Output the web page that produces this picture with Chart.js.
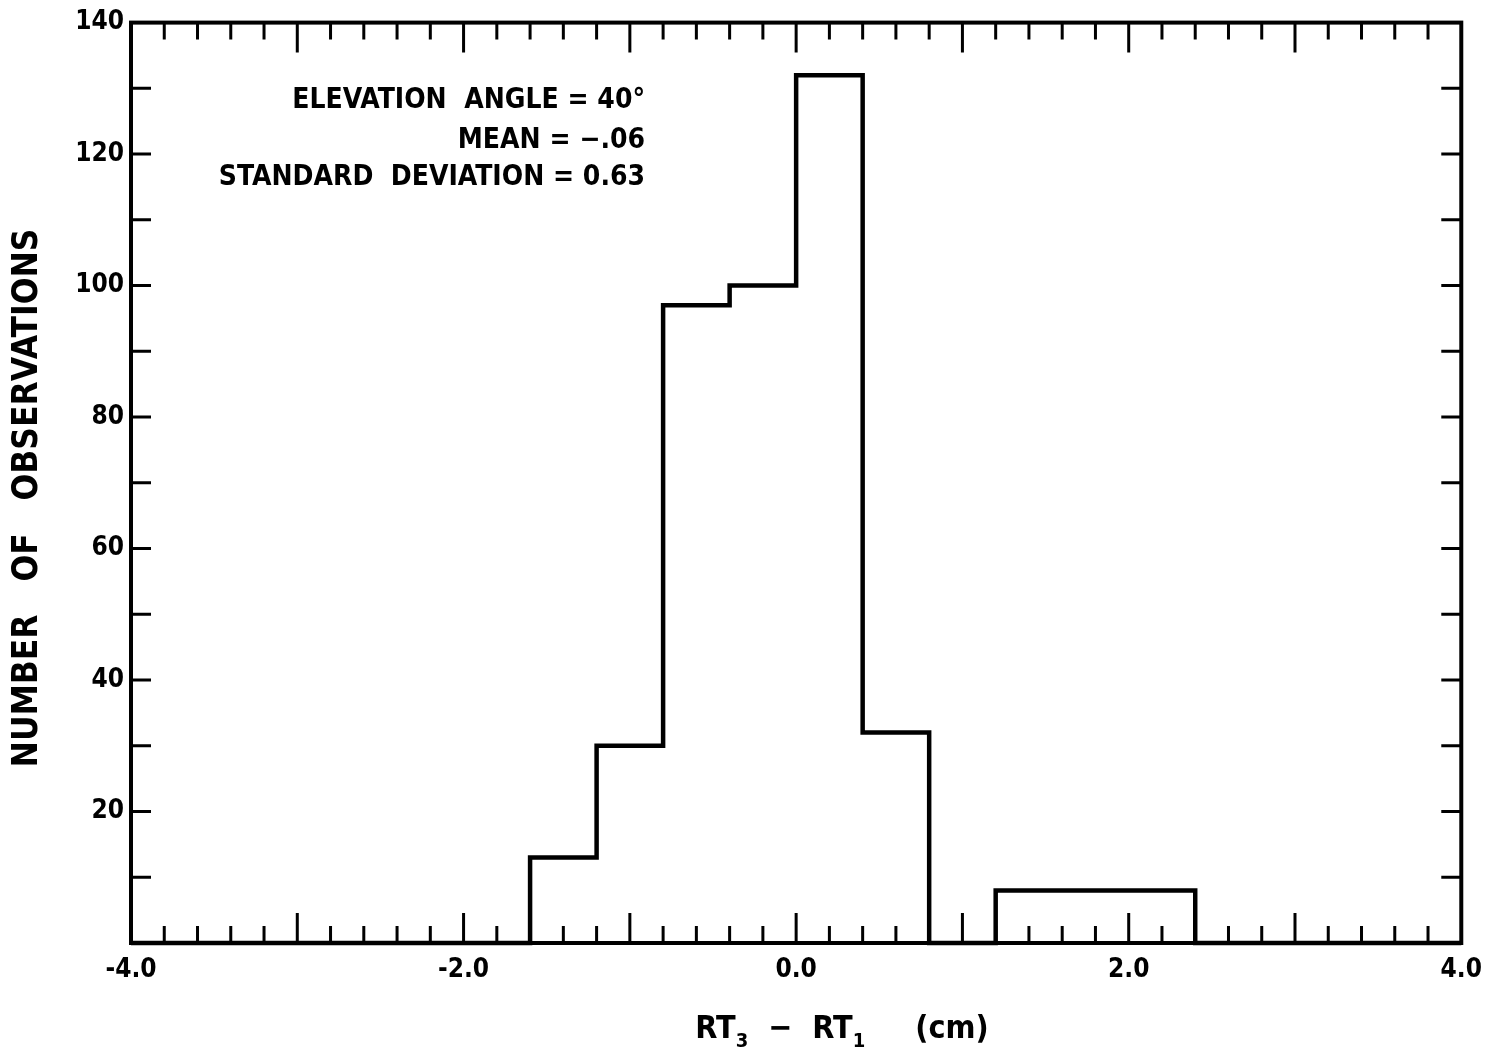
<!DOCTYPE html>
<html>
<head>
<meta charset="utf-8">
<script src="https://cdn.jsdelivr.net/npm/chart.js@4.4.1/dist/chart.umd.min.js"></script>
<style>
html, body { margin: 0; padding: 0; background: #fff; }
#wrap { width: 1494px; height: 1055px; }
</style>
</head>
<body>
<div id="wrap"><canvas id="hist" width="1494" height="1055"></canvas></div>
<script>
// histogram bins (left edge, cm) and counts
const binStarts = [-1.6, -1.2, -0.8, -0.4, 0.0, 0.4, 0.8, 1.2, 1.6, 2.0];
const binWidth = 0.4;
const counts = [13, 30, 97, 100, 132, 32, 0, 8, 8, 8];

const xRange = [-4.0, 4.0];
const yRange = [0, 140];
const xLabelTicks = [-4.0, -2.0, 0.0, 2.0, 4.0];
const yLabelTicks = [20, 40, 60, 80, 100, 120, 140];

const infoLines = ['ELEVATION  ANGLE = 40°', 'MEAN = −.06', 'STANDARD  DEVIATION = 0.63'];
const yTitle = 'NUMBER   OF   OBSERVATIONS';

const FONT = '"DejaVu Sans Condensed", "DejaVu Sans", sans-serif';

// outline points: zero from the left edge, one step per bin, back to zero
const points = [{ x: xRange[0], y: 0 }];
binStarts.forEach((b, i) => points.push({ x: b, y: counts[i] }));
points.push({ x: binStarts[binStarts.length - 1] + binWidth, y: 0 });
points.push({ x: xRange[1], y: 0 });

const frameAndText = {
    id: 'frameAndText',
    afterDatasetsDraw(chart) {
        const { ctx, chartArea: a, scales: { x, y } } = chart;
        ctx.save();
        ctx.strokeStyle = '#000';
        ctx.fillStyle = '#000';

        // frame
        ctx.lineWidth = 4;
        ctx.strokeRect(a.left, a.top, a.right - a.left, a.bottom - a.top);

        // inward ticks: x every 0.2 (long at whole units), y every 10
        ctx.lineWidth = 3;
        ctx.beginPath();
        for (let i = 1; i < 40; i++) {
            const px = x.getPixelForValue(xRange[0] + i * 0.2);
            const len = (i % 5 === 0) ? 30 : 17;
            ctx.moveTo(px, a.bottom); ctx.lineTo(px, a.bottom - len);
            ctx.moveTo(px, a.top); ctx.lineTo(px, a.top + len);
        }
        for (let v = 10; v < yRange[1]; v += 10) {
            const py = y.getPixelForValue(v);
            ctx.moveTo(a.left, py); ctx.lineTo(a.left + 20, py);
            ctx.moveTo(a.right, py); ctx.lineTo(a.right - 20, py);
        }
        ctx.stroke();

        // info block, right aligned
        ctx.font = 'bold 28px ' + FONT;
        ctx.textAlign = 'right';
        ctx.textBaseline = 'middle';
        const rowY = [101, 141, 178];
        infoLines.forEach((t, i) => ctx.fillText(t, 645, rowY[i]));

        // y title
        ctx.save();
        ctx.translate(28, 498);
        ctx.rotate(-Math.PI / 2);
        ctx.textAlign = 'center';
        ctx.font = 'bold 35px ' + FONT;
        ctx.fillText(yTitle, 0, 0);
        ctx.restore();

        // x title with subscripts
        const big = 'bold 32px ' + FONT, small = 'bold 20px ' + FONT;
        const parts = [['RT', big, 0], ['3', small, 12], ['  −  ', big, 0], ['RT', big, 0], ['1', small, 12], ['     (cm)', big, 0]];
        ctx.textAlign = 'left';
        let total = 0;
        parts.forEach(p => { ctx.font = p[1]; total += ctx.measureText(p[0]).width; });
        let cx = 842 - total / 2;
        parts.forEach(p => {
            ctx.font = p[1];
            ctx.fillText(p[0], cx, 1030 + p[2]);
            cx += ctx.measureText(p[0]).width;
        });
        ctx.restore();
    }
};

new Chart(document.getElementById('hist').getContext('2d'), {
    type: 'line',
    data: {
        datasets: [{
            data: points,
            stepped: true,
            borderColor: '#000',
            borderWidth: 4.5,
            pointRadius: 0,
            fill: false,
            clip: 8
        }]
    },
    options: {
        responsive: false,
        animation: false,
        layout: { padding: { top: 22, right: 32, left: 0, bottom: 0 } },
        plugins: { legend: { display: false }, tooltip: { enabled: false } },
        scales: {
            x: {
                type: 'linear',
                min: xRange[0], max: xRange[1],
                afterBuildTicks: s => { s.ticks = xLabelTicks.map(v => ({ value: v })); },
                afterFit: s => { s.height = 112; },
                grid: { display: false, drawTicks: false },
                border: { display: false },
                ticks: {
                    color: '#000', padding: 12, maxRotation: 0,
                    font: { family: FONT, size: 26, weight: 'bold' },
                    callback: v => v.toFixed(1)
                }
            },
            y: {
                min: yRange[0], max: yRange[1],
                afterBuildTicks: s => { s.ticks = yLabelTicks.map(v => ({ value: v })); },
                afterFit: s => { s.width = 131; },
                grid: { display: false, drawTicks: false },
                border: { display: false },
                ticks: {
                    color: '#000', padding: 7,
                    font: { family: FONT, size: 26, weight: 'bold' },
                    callback: v => String(v)
                }
            }
        }
    },
    plugins: [frameAndText]
});
</script>
</body>
</html>
